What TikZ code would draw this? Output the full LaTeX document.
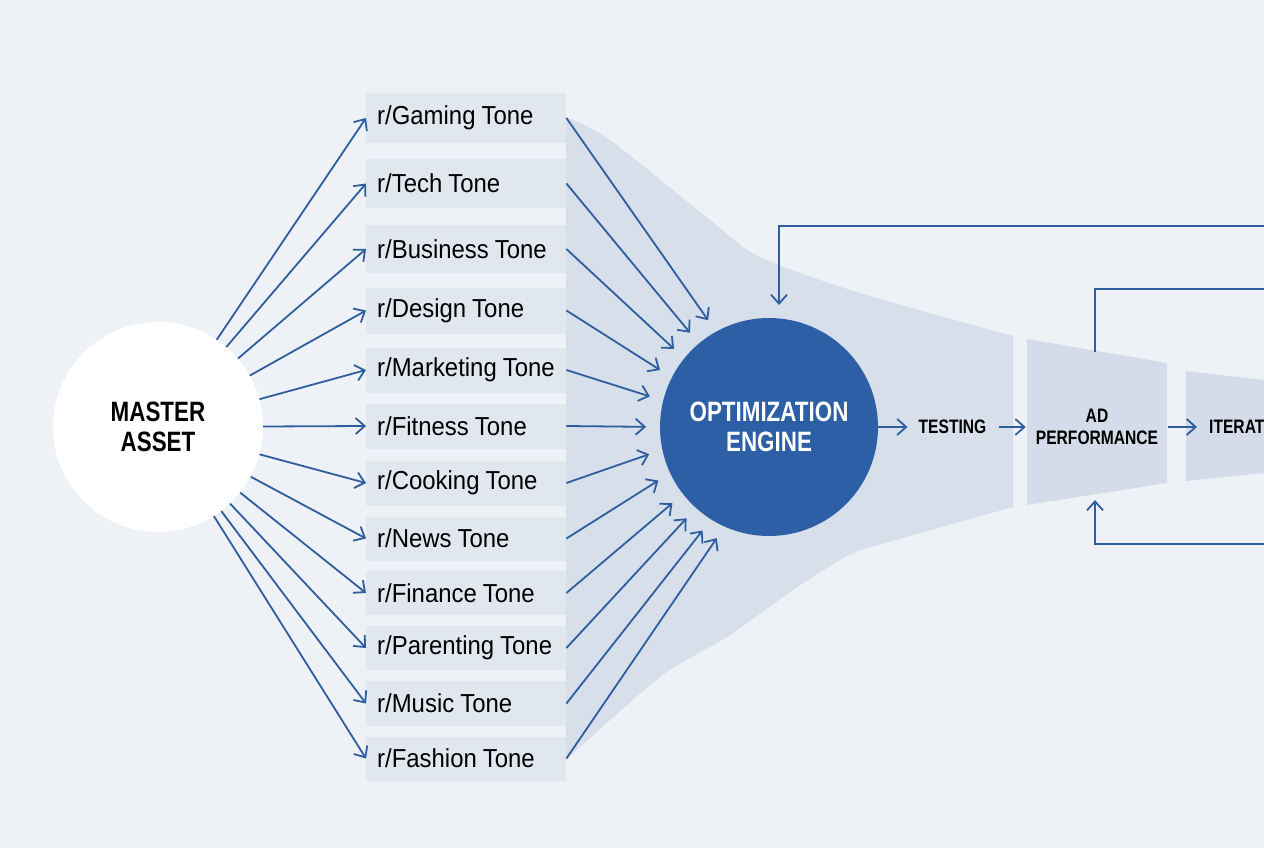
\documentclass[tikz,border=0pt]{standalone}
\usepackage{fontspec}
\setmainfont{Liberation Sans}
\newfontfamily\tonefont[FakeStretch=0.92]{Liberation Sans}
\newfontfamily\condfont[FakeStretch=0.8]{Liberation Sans}
\usetikzlibrary{arrows.meta}
\definecolor{bg}{HTML}{EEF2F7}
\definecolor{boxc}{HTML}{E1E7EF}
\definecolor{funnelc}{HTML}{D6DFEA}
\definecolor{segc}{HTML}{D3DCE8}
\definecolor{blu}{HTML}{2E5E9E}
\definecolor{enginec}{HTML}{2C5FA6}
\tikzset{
  conn/.style={draw=blu, line width=1.8pt},
  arr/.style={conn, -{Straight Barb[length=9pt,width=16pt,line width=1.8pt]}},
  tonebox/.style={fill=boxc, anchor=west, inner xsep=11pt, inner ysep=0pt,
     font=\tonefont\fontsize{26}{28}\selectfont},
  biglabel/.style={align=center, inner sep=0pt, font=\condfont\bfseries\fontsize{28}{30.5}\selectfont},
  steplabel/.style={align=center, inner sep=0pt, font=\condfont\bfseries\fontsize{19.5}{22}\selectfont}
}
\begin{document}
\begin{tikzpicture}[x=1pt,y=-1pt]
\useasboundingbox (0,0) rectangle (1264,848);
\clip (0,0) rectangle (1264,848);
\fill[bg] (0,0) rectangle (1264,848);
% funnel background
\fill[funnelc] plot[smooth] coordinates {(566,117) (610,140) (710,220) (760,257) (860,293) (1013,336)}
  -- (1013,507)
  -- plot[smooth] coordinates {(860,550) (840,560) (793,590) (727,637) (660,677) (566,760)}
  -- cycle;
\fill[segc] (1027,339) -- (1167,363) -- (1167,483) -- (1027,505) -- cycle;
\fill[segc] (1186,371) -- (1264,380) -- (1264,473) -- (1186,481) -- cycle;
% main nodes
\node[circle, fill=white, minimum size=210pt, inner sep=0pt, biglabel] (master) at (158,427) {MASTER\\ASSET};
\node[circle, fill=enginec, minimum size=218pt, inner sep=0pt, outer sep=0pt, biglabel, text=white] (engine) at (769,427) {OPTIMIZATION\\ENGINE};
% tone boxes and connectors
\foreach \i/\y/\h/\t/\a in {1/118/50/Gaming/119.2, 2/183.5/49/Tech/130.1, 3/249/48/Business/141.3,
  4/310.5/46/Design/153.4, 5/370/45/Marketing/166.2, 6/426/45/Fitness/180,
  7/483/45/Cooking/192.3, 8/538.5/44/News/205.9, 9/593/44/Finance/218,
  10/648/44/Parenting/228.3, 11/703.5/45/Music/238.1, 12/758.5/44/Fashion/246.5}{
  \node[tonebox, minimum height=\h pt] (t\i) at (366,\y) {\makebox[178pt][l]{r/\t\hspace{6pt}Tone}};
  \draw[arr] (master) -- (t\i.west);
  \draw[arr, shorten >=14pt] (t\i.east) -- (engine.\a);
}
% right-hand stages
\node[steplabel] (testing) at (952.5,427) {TESTING};
\node[steplabel] (adperf) at (1097,427) {AD\\PERFORMANCE};
\node[steplabel, anchor=west] (iteration) at (1209,427) {ITERATION};
\draw[arr, shorten >=11pt] (engine) -- (testing);
\draw[arr, shorten <=12pt, shorten >=10pt] (testing) -- (adperf);
\draw[arr, shorten <=10pt, shorten >=12pt] (adperf) -- (iteration);
% feedback loops
\coordinate (fbTop) at (1264,226);
\coordinate (engIn) at (779,305);
\draw[arr] (fbTop) -| (engIn);
\coordinate (fbMid) at (1264,289);
\coordinate (segTop) at (1095,352);
\draw[conn] (segTop) |- (fbMid);
\coordinate (fbBot) at (1264,544);
\coordinate (segBot) at (1095,500);
\draw[arr] (fbBot) -| (segBot);
\end{tikzpicture}
\end{document}
